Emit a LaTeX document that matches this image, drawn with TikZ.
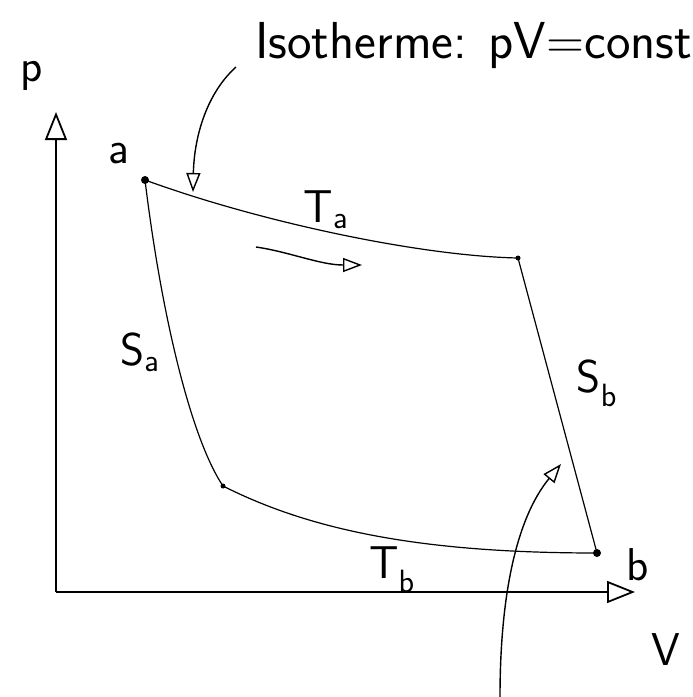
\documentclass[tikz,border=0pt]{standalone}
\usetikzlibrary{arrows.meta}
\begin{document}
\begin{tikzpicture}[x=1pt,y=-1pt,
  axis/.style={line width=1.8pt,-{Triangle[open,length=28pt,width=22pt,line width=1.8pt]}},
  curve/.style={line width=1.2pt},
  pointer/.style={line width=1.4pt,-{Triangle[open,length=19pt,width=14pt,line width=1.4pt]}},
  lbl/.style={font=\sffamily\fontsize{46}{46}\selectfont,inner sep=0pt},
  dot/.style={circle,fill=black,inner sep=0pt,minimum size=#1}]
\useasboundingbox (0,0) rectangle (693,697);
% corners
\node[dot=8pt] (a) at (145,180) {};
\node[dot=5pt] (c) at (518,258) {};
\node[dot=5pt] (d) at (223,486) {};
\node[dot=8pt] (b) at (597,553) {};
% axes
\coordinate (o) at (56,592);
\coordinate (ptip) at (56,112);
\coordinate (vtip) at (635,592);
\draw[axis] (o) -- (ptip);
\draw[axis] (o) -- (vtip);
% cycle
\draw[curve] (a.center) .. controls (260,222) and (420,256) .. (c.center);
\draw[curve] (c.center) -- (b.center);
\draw[curve] (a.center) .. controls (162,320) and (192,440) .. (d.center);
\draw[curve] (d.center) .. controls (310,530) and (420,553) .. (b.center);
% direction arrow
\coordinate (d1) at (256,247);
\coordinate (d2) at (362,265);
\draw[pointer] (d1) .. controls (290,252) and (320,265) .. (d2);
% labels
\node[lbl] (lp) at (32,76) {p};
\node[lbl] (la) at (119,154) {a};
\node[lbl] (lTa) at (326,210) {T\textsubscript{a}};
\node[lbl] (lSa) at (140,352) {S\textsubscript{a}};
\node[lbl] (lSb) at (597,383) {S\textsubscript{b}};
\node[lbl] (lTb) at (392,570) {T\textsubscript{b}};
\node[lbl] (lb) at (638,565) {b};
\node[lbl] (lV) at (666,650) {V};
\node[lbl,anchor=west,font=\sffamily\fontsize{52}{52}\selectfont] (iso) at (255,46) {Isotherme: pV=const};
% annotation arrows
\coordinate (i0) at (236,67);
\coordinate (i1) at (193,192);
\draw[pointer] (i0) .. controls (205,95) and (194,140) .. (i1);
\coordinate (q0) at (500,697);
\coordinate (q1) at (561,464);
\draw[pointer] (q0) .. controls (500,600) and (515,520) .. (q1);
\end{tikzpicture}
\end{document}
